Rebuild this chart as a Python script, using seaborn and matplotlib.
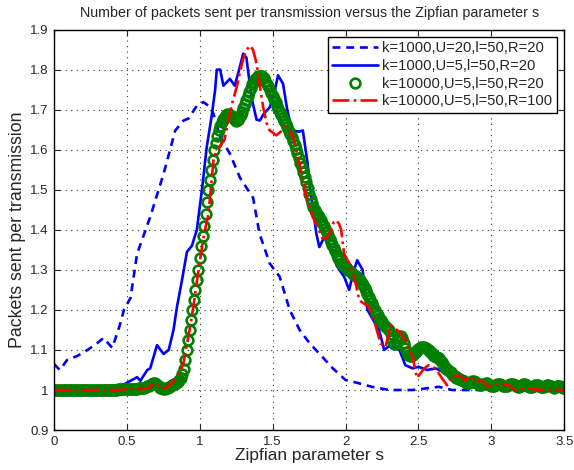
import matplotlib
matplotlib.use("Agg")
import matplotlib.pyplot as plt
import numpy as np
import pandas as pd
import seaborn as sns

# k=1000, U=20, l=50, R=20  (blue dashed)
s_dash = [0, 0.04, 0.09, 0.16, 0.23, 0.29, 0.34, 0.40, 0.45, 0.48, 0.525, 0.57,
          0.66, 0.752, 0.832, 0.889, 0.923, 0.98, 1.025, 1.07, 1.094, 1.14, 1.207,
          1.276, 1.366, 1.41, 1.48, 1.548, 1.617, 1.685, 1.753, 1.84, 1.91, 2.0,
          2.09, 2.18, 2.3, 2.46, 2.55, 2.64, 2.73, 2.9, 3.5]
p_dash = [1.065, 1.05, 1.075, 1.085, 1.1, 1.115, 1.13, 1.105, 1.16, 1.2, 1.23, 1.34,
          1.432, 1.54, 1.648, 1.673, 1.678, 1.71, 1.719, 1.707, 1.69, 1.632, 1.59,
          1.53, 1.48, 1.39, 1.316, 1.283, 1.2, 1.15, 1.117, 1.083, 1.055, 1.025,
          1.017, 1.008, 1.0, 1.0, 1.004, 1.008, 1.0, 1.0, 1.0]

# k=1000, U=5, l=50, R=20  (blue solid)
s_solid = [0, 0.35, 0.39, 0.47, 0.51, 0.57, 0.593, 0.64, 0.66, 0.707, 0.752, 0.787,
           0.82, 0.844, 0.878, 0.912, 0.946, 0.98, 1.015, 1.048, 1.08, 1.105, 1.117,
           1.14, 1.162, 1.207, 1.24, 1.27, 1.298, 1.32, 1.355, 1.39, 1.412, 1.44,
           1.48, 1.51, 1.537, 1.571, 1.60, 1.617, 1.64, 1.68, 1.707, 1.74, 1.765,
           1.8, 1.82, 1.845, 1.867, 1.9, 1.94, 1.99, 2.025, 2.05, 2.08, 2.117, 2.15,
           2.19, 2.23, 2.265, 2.3, 2.37, 2.41, 2.46, 2.5, 2.56, 2.62, 2.685, 2.78,
           2.9, 3.0, 3.2, 3.5]
p_solid = [1.0, 1.0, 1.01, 1.012, 1.02, 1.032, 1.023, 1.05, 1.054, 1.112, 1.09, 1.1,
           1.15, 1.208, 1.274, 1.345, 1.36, 1.40, 1.50, 1.607, 1.68, 1.748, 1.80,
           1.80, 1.76, 1.777, 1.76, 1.80, 1.84, 1.83, 1.73, 1.675, 1.673, 1.69,
           1.706, 1.74, 1.786, 1.765, 1.70, 1.673, 1.648, 1.645, 1.648, 1.565, 1.482,
           1.39, 1.357, 1.375, 1.382, 1.35, 1.31, 1.283, 1.25, 1.29, 1.324, 1.3, 1.2,
           1.175, 1.15, 1.1, 1.11, 1.1, 1.062, 1.054, 1.058, 1.05, 1.054, 1.042, 1.03,
           1.015, 1.01, 1.005, 1.0]

# k=10000, U=5, l=50, R=20  (green circles, sampled every 0.01)
p_circ = [
    1.0, 1.0, 1.0, 1.0, 1.0, 1.0, 1.0, 1.0, 1.0, 1.0,
    1.0, 1.0, 1.0, 1.0, 1.0, 1.0, 1.0, 1.0, 1.0, 1.0,
    1.0, 1.0, 1.0, 1.0, 1.0, 1.0, 1.0, 1.0, 1.0, 1.0,
    1.0, 1.0, 1.0, 1.0, 1.0, 1.0, 1.0, 1.001, 1.001, 1.001,
    1.001, 1.001, 1.001, 1.001, 1.002, 1.002, 1.002, 1.002, 1.002, 1.003,
    1.003, 1.003, 1.002, 1.002, 1.002, 1.003, 1.003, 1.003, 1.004, 1.004,
    1.004, 1.005, 1.006, 1.007, 1.009, 1.011, 1.013, 1.015, 1.017, 1.017,
    1.016, 1.013, 1.009, 1.006, 1.004, 1.003, 1.003, 1.004, 1.006, 1.008,
    1.010, 1.012, 1.014, 1.016, 1.018, 1.021, 1.025, 1.031, 1.040, 1.052,
    1.075, 1.100, 1.125, 1.150, 1.175, 1.200, 1.225, 1.250, 1.275, 1.300,
    1.330, 1.360, 1.385, 1.410, 1.440, 1.470, 1.500, 1.525, 1.550, 1.575,
    1.600, 1.617, 1.635, 1.650, 1.660, 1.670, 1.677, 1.683, 1.688, 1.690,
    1.690, 1.688, 1.685, 1.680, 1.675, 1.673, 1.675, 1.680, 1.687, 1.695,
    1.705, 1.715, 1.725, 1.735, 1.745, 1.755, 1.763, 1.770, 1.776, 1.780,
    1.783, 1.785, 1.785, 1.783, 1.778, 1.772, 1.765, 1.758, 1.750, 1.742,
    1.734, 1.726, 1.718, 1.710, 1.702, 1.695, 1.687, 1.680, 1.672, 1.664,
    1.656, 1.648, 1.640, 1.632, 1.622, 1.612, 1.602, 1.592, 1.580, 1.568,
    1.556, 1.544, 1.532, 1.520, 1.505, 1.490, 1.478, 1.467, 1.458, 1.450,
    1.443, 1.437, 1.431, 1.425, 1.418, 1.410, 1.402, 1.394, 1.386, 1.378,
    1.370, 1.362, 1.354, 1.346, 1.338, 1.330, 1.324, 1.318, 1.313, 1.309,
    1.306, 1.303, 1.300, 1.297, 1.294, 1.290, 1.287, 1.284, 1.281, 1.278,
    1.274, 1.268, 1.262, 1.255, 1.247, 1.240, 1.232, 1.225, 1.217, 1.208,
    1.200, 1.193, 1.187, 1.181, 1.175, 1.170, 1.165, 1.161, 1.157, 1.153,
    1.150, 1.140, 1.125, 1.115, 1.115, 1.122, 1.130, 1.135, 1.135, 1.130,
    1.118, 1.105, 1.095, 1.088, 1.085, 1.085, 1.088, 1.092, 1.096, 1.100,
    1.103, 1.105, 1.107, 1.108, 1.108, 1.106, 1.103, 1.100, 1.096, 1.092,
    1.088, 1.085, 1.083, 1.082, 1.080, 1.076, 1.070, 1.064, 1.058, 1.053,
    1.050, 1.047, 1.044, 1.040, 1.037, 1.034, 1.031, 1.029, 1.027, 1.026,
    1.025, 1.023, 1.020, 1.018, 1.017, 1.018, 1.020, 1.022, 1.022, 1.020,
    1.017, 1.014, 1.012, 1.012, 1.014, 1.016, 1.018, 1.018, 1.016, 1.013,
    1.011, 1.010, 1.011, 1.013, 1.015, 1.016, 1.015, 1.013, 1.011, 1.009,
    1.009, 1.011, 1.013, 1.015, 1.016, 1.015, 1.013, 1.010, 1.008, 1.008,
    1.010, 1.012, 1.014, 1.014, 1.012, 1.010, 1.008, 1.007, 1.008, 1.010,
    1.012, 1.013, 1.012, 1.010, 1.008, 1.007, 1.008, 1.010, 1.012, 1.012,
    1.011, 1.009, 1.007, 1.006, 1.007, 1.009, 1.010, 1.009, 1.007, 1.005,
    1.004,
]
s_circ = np.linspace(0, 3.5, len(p_circ))

# k=10000, U=5, l=50, R=100  (red dash-dot)
s_dd = [0, 0.45, 0.5, 0.55, 0.6, 0.65, 0.68, 0.71, 0.74, 0.77, 0.80, 0.84, 0.87,
        0.89, 0.91, 0.935, 0.957, 0.98, 1.0, 1.03, 1.06, 1.094, 1.117, 1.15, 1.17,
        1.196, 1.225, 1.253, 1.28, 1.30, 1.32, 1.344, 1.365, 1.39, 1.41, 1.435,
        1.46, 1.48, 1.526, 1.555, 1.583, 1.61, 1.64, 1.685, 1.73, 1.776, 1.81,
        1.844, 1.87, 1.89, 1.92, 1.935, 1.955, 1.97, 1.99, 2.026, 2.06, 2.094,
        2.13, 2.16, 2.208, 2.24, 2.275, 2.31, 2.37, 2.41, 2.46, 2.49, 2.54, 2.57,
        2.617, 2.66, 2.696, 2.73, 2.776, 2.82, 2.867, 2.9, 2.935, 2.98, 3.05, 3.12,
        3.16, 3.25, 3.34, 3.5]
p_dd = [1.0, 1.0, 1.003, 1.002, 1.003, 1.005, 1.015, 1.012, 1.002, 1.006, 1.015,
        1.03, 1.05, 1.07, 1.11, 1.16, 1.21, 1.27, 1.32, 1.39, 1.44, 1.574, 1.60,
        1.615, 1.625, 1.673, 1.72, 1.756, 1.80, 1.83, 1.848, 1.86, 1.85, 1.815,
        1.765, 1.706, 1.665, 1.648, 1.636, 1.645, 1.657, 1.652, 1.632, 1.565,
        1.482, 1.432, 1.405, 1.378, 1.38, 1.39, 1.42, 1.424, 1.415, 1.4, 1.34,
        1.316, 1.283, 1.224, 1.215, 1.208, 1.158, 1.116, 1.108, 1.162, 1.145,
        1.125, 1.083, 1.03, 1.054, 1.062, 1.054, 1.03, 1.012, 1.033, 1.037, 1.025,
        1.033, 1.02, 1.025, 1.008, 1.017, 1.012, 1.0, 1.004, 1.0, 1.0]

labels = ["k=1000,U=20,l=50,R=20", "k=1000,U=5,l=50,R=20",
          "k=10000,U=5,l=50,R=20", "k=10000,U=5,l=50,R=100"]

sns.set_style("ticks")
plt.rcParams["font.family"] = ["Liberation Sans", "DejaVu Sans"]

fig = plt.figure(figsize=(5.74, 4.70), dpi=100)
ax = fig.add_axes([0.094, 0.085, 0.889, 0.852])

sns.lineplot(x=s_dash, y=p_dash, ax=ax, color="#0000ff", lw=1.9, sort=False,
             estimator=None, label=labels[0])
ax.lines[-1].set_dashes((3.0, 2.2))
sns.lineplot(x=s_solid, y=p_solid, ax=ax, color="#0000ff", lw=1.9, sort=False,
             estimator=None, label=labels[1])
sns.lineplot(x=s_circ, y=p_circ, ax=ax, color="#008000", ls="", marker="o",
             markersize=7, markerfacecolor="none", markeredgecolor="#008000",
             markeredgewidth=1.9, sort=False, estimator=None, label=labels[2])
sns.lineplot(x=s_dd, y=p_dd, ax=ax, color="#ff0000", lw=1.9, ls="-.", sort=False,
             estimator=None, label=labels[3])

ax.set_xlim(0, 3.5)
ax.set_ylim(0.9, 1.9)
ax.set_xticks(np.arange(0, 3.51, 0.5))
ax.set_xticklabels(["0", "0.5", "1", "1.5", "2", "2.5", "3", "3.5"])
ax.set_yticks(np.arange(0.9, 1.91, 0.1))
ax.set_yticklabels(["0.9", "1", "1.1", "1.2", "1.3", "1.4", "1.5", "1.6", "1.7", "1.8", "1.9"])
ax.grid(True, ls=(0, (1, 4)), color="#333333", lw=0.8)
ax.tick_params(direction="in", top=True, right=True, labelsize=9.5, length=4,
               width=0.8, pad=4)
for sp in ax.spines.values():
    sp.set_linewidth(1.0)
    sp.set_color("black")

ax.set_title("Number of packets sent per transmission versus the Zipfian parameter s",
             fontsize=10.3, pad=9)
ax.set_xlabel("Zipfian parameter s", fontsize=12.4, labelpad=0)
ax.set_ylabel("Packets sent per transmission", fontsize=12.8, labelpad=3)

leg = ax.legend(loc="upper right", fontsize=10.6, frameon=True, fancybox=False,
                edgecolor="black", framealpha=1, borderaxespad=0.5,
                handlelength=3.1, labelspacing=0.25, borderpad=0.3,
                handletextpad=0.3)
leg.get_frame().set_linewidth(1.0)

fig.savefig("out.png", dpi=100)
